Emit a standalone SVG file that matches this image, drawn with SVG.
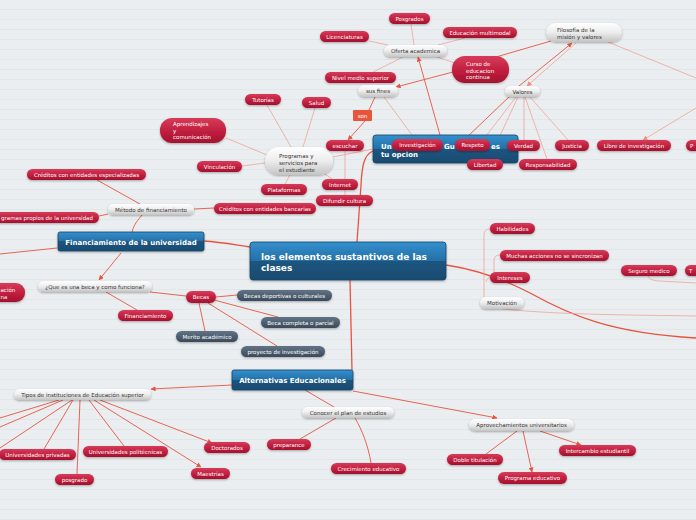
<svg xmlns="http://www.w3.org/2000/svg" width="696" height="520" viewBox="0 0 696 520">
<defs>
<pattern id="bgp" width="696" height="10" patternUnits="userSpaceOnUse">
<rect width="696" height="10" fill="#eaeef0"/>
<rect y="9" width="696" height="1" fill="#e1e6e8"/>
</pattern>
<linearGradient id="gr" x1="0" y1="0" x2="0" y2="1"><stop offset="0" stop-color="#d63c58"/><stop offset="0.5" stop-color="#c32040"/><stop offset="1" stop-color="#a3102d"/></linearGradient>
<linearGradient id="gg" x1="0" y1="0" x2="0" y2="1"><stop offset="0" stop-color="#ffffff"/><stop offset="0.5" stop-color="#ececec"/><stop offset="1" stop-color="#c4c4c4"/></linearGradient>
<linearGradient id="gd" x1="0" y1="0" x2="0" y2="1"><stop offset="0" stop-color="#617486"/><stop offset="1" stop-color="#3a4a5a"/></linearGradient>
<linearGradient id="gb" x1="0" y1="0" x2="0" y2="1"><stop offset="0" stop-color="#3390cf"/><stop offset="0.5" stop-color="#256fa5"/><stop offset="0.5" stop-color="#1c5580"/><stop offset="1" stop-color="#194b70"/></linearGradient>
<filter id="sh" x="-10%" y="-20%" width="120%" height="160%"><feDropShadow dx="0" dy="1" stdDeviation="0.8" flood-color="#000" flood-opacity="0.3"/></filter>
<marker id="ar" viewBox="0 0 6 6" refX="5.5" refY="3" markerWidth="5" markerHeight="5" markerUnits="userSpaceOnUse" orient="auto"><path d="M0,0 L6,3 L0,6 Z" fill="#e8533f"/></marker>
<marker id="arp" viewBox="0 0 6 6" refX="5.5" refY="3" markerWidth="5" markerHeight="5" markerUnits="userSpaceOnUse" orient="auto"><path d="M0,0 L6,3 L0,6 Z" fill="#ef9080"/></marker>
</defs>
<style>
.r{fill:url(#gr);filter:url(#sh)}
.g{fill:url(#gg);filter:url(#sh)}
.d{fill:url(#gd);filter:url(#sh)}
.b{fill:url(#gb);stroke:#184868;stroke-width:0.8;filter:url(#sh)}
text{font-family:"DejaVu Sans","Liberation Sans",sans-serif;font-size:5.5px;text-anchor:middle}
.w{fill:#ffffff}
.k{fill:#333333}
.s{text-anchor:start}
.e{text-anchor:end}
.bt{fill:#ffffff;font-weight:bold;font-size:7px}
.ct{font-size:9px;text-anchor:start}
#conn path{fill:none}
.m{stroke:#e8533f;stroke-width:1.3}
.n{stroke:#e8533f;stroke-width:0.9}
.p{stroke:#ef9a8c;stroke-width:0.7}
</style>
<rect width="696" height="520" fill="url(#bgp)"/>
<g id="conn">
<path class="m" d="M250,247 C230,244 220,242 204,241"/>
<path class="m" d="M357,242 L361,185 C362,165 364,155 373,151"/>
<path class="m" d="M350,280 L352,370"/>
<path class="m" d="M446,265 C480,270 505,280 530,293 C570,315 610,333 696,338"/>
<path class="n" d="M353,391 L497,418" marker-end="url(#ar)"/>
<path class="n" d="M232,385 L151,389" marker-end="url(#ar)"/>
<path class="n" d="M305,390 L334,407"/>
<path class="n" d="M132,232 C134,224 138,220 142,215"/>
<path class="n" d="M121,253 L99,280" marker-end="url(#ar)"/>
<path class="n" d="M57,248 L0,254"/>
<path class="n" d="M140,204 L97,180"/>
<path class="n" d="M108,214 L99,216"/>
<path class="n" d="M194,209 L214,208"/>
<path class="n" d="M150,292 L186,296"/>
<path class="n" d="M106,292 L137,310"/>
<path class="n" d="M216,297 L237,295"/>
<path class="n" d="M214,300 L278,317"/>
<path class="n" d="M199,303 L205,331"/>
<path class="n" d="M208,303 L277,346"/>
<path class="n" d="M59,400 L0,418"/>
<path class="n" d="M63,400 L0,427"/>
<path class="n" d="M72,400 L0,448"/>
<path class="n" d="M73,400 L44,449"/>
<path class="n" d="M80,400 L77,474"/>
<path class="n" d="M89,400 L124,446"/>
<path class="n" d="M94,400 L201,467" marker-end="url(#ar)"/>
<path class="n" d="M100,400 L212,443" marker-end="url(#ar)"/>
<path class="n" d="M336,418 L300,439"/>
<path class="n" d="M355,418 C362,430 368,445 371,463"/>
<path class="n" d="M517,431 L486,454"/>
<path class="n" d="M523,431 L532,472" marker-end="url(#ar)"/>
<path class="n" d="M540,431 L581,445" marker-end="url(#ar)"/>
<path class="n" d="M440,135 L418,57" marker-end="url(#ar)"/>
<path class="n" d="M453,72 L396,87" marker-end="url(#ar)"/>
<path class="n" d="M551,41 L496,57"/>
<path class="n" d="M519,86 L572,43" marker-end="url(#ar)"/>
<path class="p" d="M576,43 L527,86" marker-end="url(#arp)"/>
<path class="n" d="M510,96 L465,139"/>
<path class="p" d="M516,97 L483,140"/>
<path class="p" d="M518,97 L498,140"/>
<path class="p" d="M524,97 L524,140"/>
<path class="p" d="M525,97 L547,159"/>
<path class="p" d="M530,97 L568,140"/>
<path class="p" d="M608,42 L696,78"/>
<path class="p" d="M696,108 L643,140" marker-end="url(#arp)"/>
<path class="p" d="M414,45 L411,24"/>
<path class="p" d="M388,45 L369,41"/>
<path class="p" d="M438,45 L465,38"/>
<path class="p" d="M403,57 L373,72"/>
<path class="p" d="M437,57 L455,63"/>
<path class="n" d="M375,97 L369,110"/>
<path class="n" d="M365,121 L348,140" marker-end="url(#ar)"/>
<path class="p" d="M384,97 L412,135"/>
<path class="p" d="M373,149 L333,157"/>
<path class="p" d="M345,151 L345,195"/>
<path class="p" d="M291,147 L267,105"/>
<path class="p" d="M303,147 L315,108"/>
<path class="p" d="M267,155 L226,138"/>
<path class="p" d="M265,163 L242,166"/>
<path class="p" d="M290,175 L285,184"/>
<path class="p" d="M322,172 L332,179"/>
<path class="p" d="M484,297 L484,235 Q484,229 490,229"/>
<path class="p" d="M494,282 L494,260 Q494,255 500,255"/>
<path class="p" d="M486,282 Q487,278 490,277"/>
<path class="p" d="M503,309 C560,315 640,315 696,316"/>
<path class="p" d="M648,276 Q650,281 660,281 L696,283"/>
</g>

<g id="central"><rect class="b" x="250" y="242" width="196" height="38" rx="3"/><text class="bt ct s" x="261" y="259.5">los elementos sustantivos de las</text><text class="bt ct s" x="261" y="270.5">clases</text></g>
<g id="fin-univ"><rect class="b" x="58" y="232" width="146" height="19" rx="2"/><text class="bt" x="131" y="244.5">Financiamiento de la universidad</text></g>
<g id="alternativas"><rect class="b" x="232" y="370" width="121" height="20" rx="2"/><text class="bt" x="292.5" y="383">Alternativas Educacionales</text></g>
<g id="un-box"><rect class="b" x="373" y="135" width="145" height="28" rx="3"/><text class="bt s" x="381" y="149">Un</text><text class="bt s" x="444" y="149">Gu</text><text class="bt s" x="491" y="149">es</text><text class="bt s" x="381" y="157">tu opcion</text></g>

<g id="oferta"><rect class="g" x="384" y="45" width="63" height="12" rx="6"/><text class="k" x="415.5" y="53">Oferta academica</text></g>
<g id="sus-fines"><rect class="g" x="358" y="85" width="40" height="12" rx="6"/><text class="k" x="378" y="93">sus fines</text></g>
<g id="son"><rect x="353" y="110" width="19" height="11" rx="1" fill="#e8553a"/><text class="w" x="362.5" y="117.5">son</text></g>
<g id="programas"><rect class="g" x="265" y="147" width="68" height="28" rx="14"/><text class="k s" x="279" y="157.5">Programas y</text><text class="k s" x="279" y="164.5">servicios para</text><text class="k s" x="279" y="171.5">el estudiante</text></g>
<g id="filosofia"><rect class="g" x="546" y="23" width="76" height="19" rx="9.5"/><text class="k s" x="557" y="31.5">Filosofía de la</text><text class="k s" x="557" y="38.5">misión y valores</text></g>
<g id="valores"><rect class="g" x="505" y="86" width="35" height="11" rx="5.5"/><text class="k" x="522.5" y="93.5">Valores</text></g>
<g id="metodo"><rect class="g" x="108" y="204" width="86" height="11" rx="5.5"/><text class="k" x="151" y="211.5">Método de financiamiento</text></g>
<g id="que-beca"><rect class="g" x="38" y="281" width="114" height="11" rx="5.5"/><text class="k" x="95" y="288.5">¿Que es una beca y como funciona?</text></g>
<g id="motivacion"><rect class="g" x="480" y="297" width="44" height="12" rx="6"/><text class="k" x="502" y="305">Motivación</text></g>
<g id="tipos"><rect class="g" x="14" y="389" width="137" height="11" rx="5.5"/><text class="k" x="82.5" y="396.5">Tipos de instituciones de Educación superior</text></g>
<g id="conocer"><rect class="g" x="302" y="407" width="92" height="11" rx="5.5"/><text class="k" x="348" y="414.5">Conocer el plan de estudios</text></g>
<g id="aprovechamientos"><rect class="g" x="469" y="419" width="105" height="12" rx="6"/><text class="k" x="521.5" y="427">Aprovechamientos universitarios</text></g>

<g id="posgrados"><rect class="r" x="389" y="13" width="41" height="11" rx="5.5"/><text class="w" x="409.5" y="20.5">Posgrados</text></g>
<g id="multimodal"><rect class="r" x="443" y="27" width="74" height="11" rx="5.5"/><text class="w" x="480" y="34.5">Educación multimodal</text></g>
<g id="licenciaturas"><rect class="r" x="320" y="31" width="49" height="11" rx="5.5"/><text class="w" x="344.5" y="38.5">Licenciaturas</text></g>
<g id="nivel-medio"><rect class="r" x="325" y="72" width="71" height="11" rx="5.5"/><text class="w" x="360.5" y="79.5">Nivel medio superior</text></g>
<g id="curso"><rect class="r" x="452" y="56" width="57" height="27" rx="13"/><text class="w s" x="466" y="66">Curso de</text><text class="w s" x="466" y="72.5">educacion</text><text class="w s" x="466" y="79">continua</text></g>
<g id="tutorias"><rect class="r" x="245" y="94" width="36" height="11" rx="5.5"/><text class="w" x="263" y="101.5">Tutorías</text></g>
<g id="salud"><rect class="r" x="302" y="97" width="29" height="11" rx="5.5"/><text class="w" x="316.5" y="104.5">Salud</text></g>
<g id="aprendizajes"><rect class="r" x="160" y="118" width="66" height="25" rx="12"/><text class="w s" x="173" y="126">Aprendizajes</text><text class="w s" x="173" y="132.5">y</text><text class="w s" x="173" y="139">comunicación</text></g>
<g id="escuchar"><rect class="r" x="326" y="140" width="38" height="11" rx="5.5"/><text class="w" x="345" y="147.5">escuchar</text></g>
<g id="vinculacion"><rect class="r" x="197" y="161" width="45" height="11" rx="5.5"/><text class="w" x="219.5" y="168.5">Vinculación</text></g>
<g id="investigacion"><rect class="r" x="392" y="139" width="51" height="12" rx="6"/><text class="w" x="417.5" y="147">Investigación</text></g>
<g id="respeto"><rect class="r" x="455" y="139" width="35" height="12" rx="6"/><text class="w" x="472.5" y="147">Respeto</text></g>
<g id="verdad"><rect class="r" x="507" y="140" width="33" height="11" rx="5.5"/><text class="w" x="523.5" y="147.5">Verdad</text></g>
<g id="justicia"><rect class="r" x="555" y="140" width="34" height="11" rx="5.5"/><text class="w" x="572" y="147.5">Justicia</text></g>
<g id="libre"><rect class="r" x="597" y="140" width="74" height="11" rx="5.5"/><text class="w" x="634" y="147.5">Libre de investigación</text></g>
<g id="p-node"><rect class="r" x="686" y="140" width="40" height="11" rx="5.5"/><text class="w s" x="690" y="147.5">P</text></g>
<g id="libertad"><rect class="r" x="467" y="159" width="36" height="11" rx="5.5"/><text class="w" x="485" y="166.5">Libertad</text></g>
<g id="responsabilidad"><rect class="r" x="519" y="159" width="58" height="11" rx="5.5"/><text class="w" x="548" y="166.5">Responsabilidad</text></g>
<g id="internet"><rect class="r" x="322" y="179" width="36" height="11" rx="5.5"/><text class="w" x="340" y="186.5">Internet</text></g>
<g id="plataformas"><rect class="r" x="261" y="184" width="46" height="11" rx="5.5"/><text class="w" x="284" y="191.5">Plataformas</text></g>
<g id="difundir"><rect class="r" x="316" y="195" width="57" height="11" rx="5.5"/><text class="w" x="344.5" y="202.5">Difundir cultura</text></g>
<g id="creditos-banc"><rect class="r" x="214" y="203" width="102" height="11" rx="5.5"/><text class="w" x="265" y="210.5">Créditos con entidades bancarias</text></g>
<g id="creditos-esp"><rect class="r" x="27" y="169" width="119" height="11" rx="5.5"/><text class="w" x="86.5" y="176.5">Créditos con entidades especializadas</text></g>
<g id="programas-propios"><rect class="r" x="-30" y="212" width="129" height="11" rx="5.5"/><text class="w e" x="93" y="219.5">gramas propios de la universidad</text></g>
<g id="left-node"><rect class="r" x="-40" y="283" width="65" height="19" rx="9"/><text class="w s" x="0.5" y="292">ación</text><text class="w s" x="0.5" y="298.5">na</text></g>
<g id="financiamiento"><rect class="r" x="118" y="310" width="55" height="11" rx="5.5"/><text class="w" x="145.5" y="317.5">Financiamiento</text></g>
<g id="becas"><rect class="r" x="186" y="291" width="30" height="12" rx="6"/><text class="w" x="201" y="299">Becas</text></g>
<g id="habilidades"><rect class="r" x="490" y="223" width="45" height="11" rx="5.5"/><text class="w" x="512.5" y="230.5">Habilidades</text></g>
<g id="muchas"><rect class="r" x="500" y="250" width="109" height="11" rx="5.5"/><text class="w" x="554.5" y="257.5">Muchas acciones no se sincronizan</text></g>
<g id="intereses"><rect class="r" x="490" y="272" width="40" height="11" rx="5.5"/><text class="w" x="510" y="279.5">Intereses</text></g>
<g id="seguro"><rect class="r" x="621" y="265" width="56" height="11" rx="5.5"/><text class="w" x="649" y="272.5">Seguro medico</text></g>
<g id="t-node"><rect class="r" x="685" y="265" width="40" height="11" rx="5.5"/><text class="w s" x="689" y="272.5">T</text></g>
<g id="privadas"><rect class="r" x="-1" y="449" width="77" height="11" rx="5.5"/><text class="w" x="37.5" y="456.5">Universidades privadas</text></g>
<g id="politecnicas"><rect class="r" x="83" y="446" width="85" height="11" rx="5.5"/><text class="w" x="125.5" y="453.5">Universidades politécnicas</text></g>
<g id="posgrado"><rect class="r" x="55" y="474" width="39" height="11" rx="5.5"/><text class="w" x="74.5" y="481.5">posgrado</text></g>
<g id="doctorados"><rect class="r" x="204" y="442" width="46" height="11" rx="5.5"/><text class="w" x="227" y="449.5">Doctorados</text></g>
<g id="maestrias"><rect class="r" x="191" y="468" width="39" height="11" rx="5.5"/><text class="w" x="210.5" y="475.5">Maestrías</text></g>
<g id="preparance"><rect class="r" x="267" y="439" width="44" height="11" rx="5.5"/><text class="w" x="289" y="446.5">preparance</text></g>
<g id="crecimiento"><rect class="r" x="331" y="463" width="75" height="11" rx="5.5"/><text class="w" x="368.5" y="470.5">Crecimiento educativo</text></g>
<g id="doble"><rect class="r" x="447" y="454" width="56" height="11" rx="5.5"/><text class="w" x="475" y="461.5">Doble titulación</text></g>
<g id="intercambio"><rect class="r" x="559" y="445" width="77" height="11" rx="5.5"/><text class="w" x="597.5" y="452.5">Intercambio estudiantil</text></g>
<g id="programa-edu"><rect class="r" x="498" y="472" width="69" height="12" rx="6"/><text class="w" x="532.5" y="480">Programa educativo</text></g>

<g id="becas-dep"><rect class="d" x="237" y="290" width="95" height="11" rx="5.5"/><text class="w" x="284.5" y="297.5">Becas deportivas o culturales</text></g>
<g id="beca-completa"><rect class="d" x="261" y="317" width="79" height="11" rx="5.5"/><text class="w" x="300.5" y="324.5">Beca completa o parcial</text></g>
<g id="merito"><rect class="d" x="176" y="331" width="62" height="11" rx="5.5"/><text class="w" x="207" y="338.5">Merito académico</text></g>
<g id="proyecto"><rect class="d" x="241" y="346" width="84" height="11" rx="5.5"/><text class="w" x="283" y="353.5">proyecto de investigación</text></g>
</svg>
